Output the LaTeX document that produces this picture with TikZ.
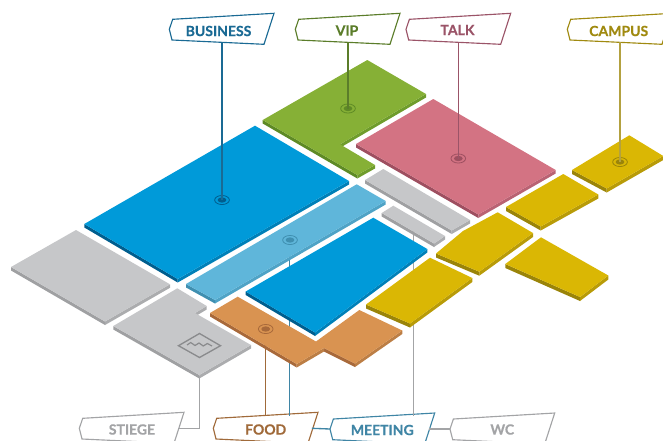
\documentclass[tikz,border=0pt]{standalone}
\usepackage{fontspec}
\setmainfont[BoldFeatures={FakeBold=0.5}]{Lato}
\usetikzlibrary{shapes.geometric,calc}
\definecolor{cBlue}{HTML}{009AD9}\definecolor{cBlueL}{HTML}{005E8E}\definecolor{cBlueR}{HTML}{0080B8}
\definecolor{cSky}{HTML}{5FB6DA}\definecolor{cSkyL}{HTML}{3F8FB0}\definecolor{cSkyR}{HTML}{4FA3C6}
\definecolor{cGrey}{HTML}{C6C7C9}\definecolor{cGreyL}{HTML}{9FA0A2}\definecolor{cGreyR}{HTML}{ABACAE}
\definecolor{cOrange}{HTML}{D99351}\definecolor{cOrangeL}{HTML}{A8693A}\definecolor{cOrangeR}{HTML}{BC7E45}
\definecolor{cYellow}{HTML}{DAB704}\definecolor{cYellowL}{HTML}{9A8409}\definecolor{cYellowR}{HTML}{B89B08}
\definecolor{cPink}{HTML}{D37383}\definecolor{cPinkL}{HTML}{9E4F60}\definecolor{cPinkR}{HTML}{B96273}
\definecolor{cGreen}{HTML}{86B036}\definecolor{cGreenL}{HTML}{5E8A25}\definecolor{cGreenR}{HTML}{6F9C2C}
\definecolor{tBusiness}{HTML}{1A6A94}\definecolor{tVip}{HTML}{5B7D2A}\definecolor{tTalk}{HTML}{9B5468}
\definecolor{tCampus}{HTML}{A08A10}\definecolor{tGrey}{HTML}{A3A4A6}\definecolor{tFood}{HTML}{A06A3A}\definecolor{tMeeting}{HTML}{3F85A5}
\tikzset{
  taglabel/.style={font=\fontsize{10.5}{12}\selectfont\bfseries,inner sep=0pt},
  leader/.style={line width=1pt},
  dotring/.style={ellipse,draw,line width=0.6pt,minimum width=11pt,minimum height=6.8pt,inner sep=0pt},
  dotcore/.style={ellipse,fill,minimum width=6.6pt,minimum height=4pt,inner sep=0pt},
}
% name, tip x, tip y, colour, text, text x, text y
\newcommand\maptag[7]{%
  \filldraw[draw=#4,fill=white,line width=0.85pt] (#2,#3) -- ++(3.4,-10) -- ++(101.3,-6) -- ++(-10,31) -- ++(-92,-4.3) -- cycle;
  \node[taglabel,text=#4] (#1) at (#6,#7) {#5};
  \coordinate (#1-top) at ($(#2,#3)+(53,-13)$);
  \coordinate (#1-bottom) at ($(#2,#3)+(53,13)$);
  \coordinate (#1-left) at (#2,#3);
  \coordinate (#1-right) at ($(#2,#3)+(98.5,0)$);
}
% top, left side, right side, thickness, first x, first y, other points clockwise ending at the first
\newcommand\slab[7]{%
  \foreach \vx/\vy [remember=\vx as \lx (initially #5),remember=\vy as \ly (initially #6)] in {#7}{%
    \pgfmathtruncatemacro\vis{\vx<\lx ? (\vy>\ly ? 1 : 2) : 0}%
    \ifnum\vis=1 \fill[#3] (\lx,\ly) -- (\vx,\vy) -- (\vx,\vy+#4) -- (\lx,\ly+#4) -- cycle; \fi
    \ifnum\vis=2 \fill[#2] (\lx,\ly) -- (\vx,\vy) -- (\vx,\vy+#4) -- (\lx,\ly+#4) -- cycle; \fi
  }%
  \fill[#1] (#5,#6) \foreach \vx/\vy in {#7}{ -- (\vx,\vy)} -- cycle;
}
% name, x, y, colour
\newcommand\mapdot[4]{%
  \node[dotring,draw=#4] (#1) at (#2,#3) {};
  \node[dotcore,fill=#4] at (#2,#3) {};
}
\begin{document}
\begin{tikzpicture}[x=0.75pt,y=-0.75pt]
\useasboundingbox (0,0) rectangle (663,440);
\clip (0,0) rectangle (663,440);
% tags
\maptag{business}{169.3}{29.3}{tBusiness}{BUSINESS}{218.5}{31}
\maptag{vip}{295.3}{29.3}{tVip}{VIP}{347}{30.5}
\maptag{talk}{406}{29.3}{tTalk}{TALK}{457.5}{30}
\maptag{campus}{567.3}{29.3}{tCampus}{CAMPUS}{618.7}{31}
\maptag{stiege}{79.3}{428.3}{tGrey}{STIEGE}{132}{429.5}
\maptag{food}{213.3}{428.3}{tFood}{FOOD}{265.7}{429.5}
\maptag{meeting}{330}{429}{tMeeting}{MEETING}{382.3}{430}
\maptag{wc}{450}{429}{tGrey}{WC}{502.3}{429.5}
% anchors behind the floor
\coordinate (stiegeend) at (199.3,376);
\coordinate (foodend) at (265.7,329);
\coordinate (meetingend) at (289.3,240);
\coordinate (wcend) at (413.5,225);
\draw[leader,tGrey] (stiegeend) |- (stiege-right);
\draw[leader,tFood] (foodend) -- (foodend |- food-top);
\draw[leader,tMeeting] (meetingend) -- (meetingend |- meeting-top);
\draw[leader,tGrey] (wcend) -- (wcend |- wc-top);
\draw[leader,tMeeting] (food-right) -- (meeting-left);
\draw[leader,tGrey] (meeting-right) -- (wc-left);
% floor
\slab{cGrey}{cGreyL}{cGreyR}{3.5}{11}{267}{76/230,170/284.3,105/321.5,11/267}
\slab{cGrey}{cGreyL}{cGreyR}{3.5}{113.3}{326}{177.3/288.3,206.7/306,195/313,251/345,199.3/375,113.3/326}
\slab{cBlue}{cBlueL}{cBlueR}{3.5}{84.3}{224}{255/125.7,349/181,177.7/279,84.3/224}
\slab{cSky}{cSkyL}{cSkyR}{3.5}{186}{284}{356.7/184.3,385.7/201,215/300,186/284}
\slab{cGreen}{cGreenL}{cGreenR}{3.5}{262.7}{120}{367.3/60,426/94,340/144.3,375/165,357.3/175,262.7/120}
\slab{cPink}{cPinkL}{cPinkR}{3.5}{356}{144}{433.3/99,555.7/170,478.3/214.5,356/144}
\slab{cGrey}{cGreyL}{cGreyR}{3.5}{365}{180}{383.3/169,470/220,451.7/230.5,365/180}
\slab{cGrey}{cGreyL}{cGreyR}{3.5}{381.7}{213}{393.3/205.7,445/236,434/243.5,381.7/213}
\slab{cOrange}{cOrangeL}{cOrangeR}{3.5}{210}{313}{237.7/296.7,316/341.5,359.3/310,402.3/330.5,355/363.5,324/348,296.7/364,210/313}
\slab{cBlue}{cBlueL}{cBlueR}{3.5}{245.7}{291.5}{373.3/217.7,427.3/249,315/332.5,245.7/291.5}
\slab{cYellow}{cYellowL}{cYellowR}{4}{366}{304.5}{430/257.7,472.3/278,410/323.5,366/304.5}
\slab{cYellow}{cYellowL}{cYellowR}{4}{436}{253.5}{463/231,497.7/212.3,533/233,479.3/271.7,436/253.5}
\slab{cYellow}{cYellowL}{cYellowR}{4}{506}{207}{563.3/174,598.3/194.5,540.7/226.5,506/207}
\slab{cYellow}{cYellowL}{cYellowR}{4}{505.3}{264}{541/237.3,608.3/275.5,580/297,505.3/264}
\slab{cYellow}{cYellowL}{cYellowR}{4}{572}{170}{629.3/135.3,663.3/156,606.7/188.5,572/170}
% stair icon
\draw[tGrey!85!black,line width=1pt] (178.5,345.7) -- (199.5,333.5) -- (220.5,345.7) -- (199.5,357.5) -- cycle;
\draw[tGrey!85!black,line width=0.9pt] (187,345) -- (190.7,342.5) -- (195,345.5) -- (199,343) -- (203.3,346) -- (207.3,343.5) -- (212,346);
% dots and leaders in front
\mapdot{businessdot}{222}{200}{cBlueL}
\mapdot{vipdot}{348}{108.5}{cGreenL}
\mapdot{talkdot}{458.3}{158.5}{cPinkL}
\mapdot{campusdot}{620}{162}{cYellowL}
\mapdot{skydot}{290}{240}{cSkyL}
\mapdot{fooddot}{265.7}{329}{cOrangeL}
\draw[leader,tBusiness] (businessdot.center) -- (businessdot |- business-bottom);
\draw[leader,tVip] (vipdot.center) -- (vipdot |- vip-bottom);
\draw[leader,tTalk] (talkdot.center) -- (talkdot |- talk-bottom);
\draw[leader,tCampus!80!white] (campusdot.center) -- (campusdot |- campus-bottom);
\end{tikzpicture}
\end{document}
